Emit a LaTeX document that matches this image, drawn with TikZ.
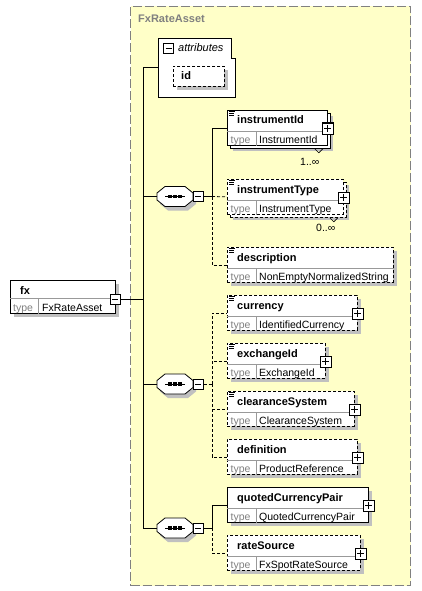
\documentclass[tikz,border=0pt]{standalone}
\usepackage{fontspec}
\setmainfont{Liberation Sans}
\usetikzlibrary{shadows}
\definecolor{xsdyellow}{RGB}{255,255,200}
\definecolor{xsdshadow}{RGB}{192,192,192}
\definecolor{xsdgray}{RGB}{128,128,128}
\tikzset{
	elbox/.style={draw,fill=white,line width=0.8pt,anchor=north west,inner sep=0pt,minimum height=35pt},
	elshadow/.style={drop shadow={shadow xshift=#1,shadow yshift=-#1,fill=xsdshadow,opacity=1}},
	singlebox/.style={elbox,elshadow=4pt},
	multibox/.style={elbox,elshadow=6pt,copy shadow={shadow xshift=3pt,shadow yshift=-3pt,draw=black,fill=white,opacity=1}},
	optbox/.style={dash pattern=on 3pt off 2pt},
	optline/.style={dash pattern=on 3pt off 2pt},
	divline/.style={draw=black!40,line width=0.8pt},
	groupbox/.style={draw=xsdgray,fill=xsdyellow,dash pattern=on 9pt off 3pt,line width=1pt,anchor=north west,inner sep=0pt,minimum width=280pt,minimum height=579pt},
	attrbox/.style={anchor=north west,inner sep=0pt,minimum width=77pt,minimum height=59pt},
	seqbox/.style={inner sep=0pt,minimum width=36pt,minimum height=20pt},
	nametext/.style={anchor=base west,inner sep=0pt,font=\fontsize{11}{13}\selectfont\bfseries},
	titletext/.style={nametext,text=xsdgray},
	attrtext/.style={anchor=base west,inner sep=0pt,font=\fontsize{11}{13}\selectfont\itshape},
	typetext/.style={anchor=base west,inner sep=0pt,text=xsdgray,font=\fontsize{10.5}{12}\selectfont},
	valtext/.style={anchor=base west,inner sep=0pt,font=\fontsize{10.5}{12}\selectfont},
	occtext/.style={valtext},
	minusbox/.style={draw,fill=white,line width=1pt,minimum size=10pt,inner sep=0pt,
		path picture={\draw[line width=1pt] ([xshift=2pt]path picture bounding box.west) -- ([xshift=-2pt]path picture bounding box.east);}},
	plusbox/.style={draw,fill=white,line width=1pt,minimum size=11pt,inner sep=0pt,
		path picture={\draw[line width=1pt] ([xshift=2pt]path picture bounding box.west) -- ([xshift=-2pt]path picture bounding box.east)
			([yshift=-2pt]path picture bounding box.north) -- ([yshift=2pt]path picture bounding box.south);}},
	docline/.style={line width=0.7pt},
	conn/.style={line width=0.8pt}
}
\newcommand{\xsdel}[5]{%
	\node[#1,minimum width=#4] (#2) at (227,#3) {};
	\draw[divline] ([yshift=-21pt]#2.north west) -- ([yshift=-21pt]#2.north east);
	\draw[divline] ([xshift=29pt,yshift=-21pt]#2.north west) -- ([xshift=29pt]#2.south west);
	\node[nametext] (#2-name) at ([xshift=10pt,yshift=-14pt]#2.north west) {#2};
	\node[typetext] (#2-key) at ([xshift=3.5pt,yshift=2.5pt]#2.south west) {type};
	\node[valtext] (#2-type) at ([xshift=32pt,yshift=2.5pt]#2.south west) {#5};
}
\newcommand{\xsdseq}[2]{%
	\fill[xsdshadow] (160,#2+0.5) -- (168,#2-6) -- (188,#2-6) -- (196,#2+0.5) -- (196,#2+7.5) -- (188,#2+14) -- (168,#2+14) -- (160,#2+7.5) -- cycle;
	\draw[line width=0.8pt,fill=white] (157,#2-3.5) -- (165,#2-10) -- (185,#2-10) -- (193,#2-3.5) -- (193,#2+3.5) -- (185,#2+10) -- (165,#2+10) -- (157,#2+3.5) -- cycle;
	\node[seqbox] (#1) at (175,#2) {};
	\draw[line width=0.8pt] (165,#2) -- (185,#2);
	\foreach \d in {170,175,180}
		\fill (\d-1.6,#2-1.6) rectangle (\d+1.6,#2+1.6);
	\node[minusbox] (#1-minus) at (198,#2) {};
}
\newcommand{\xsdplus}[1]{\node[plusbox] (#1-plus) at ([yshift=-18.5pt]#1.north east) {};}
\newcommand{\xsddoc}[1]{\draw[docline] ([xshift=2pt,yshift=-1.5pt]#1.north west) -- ++(6,0)
	([xshift=2pt,yshift=-3.2pt]#1.north west) -- ++(5,0) ([xshift=2pt,yshift=-4.9pt]#1.north west) -- ++(5,0);}
\begin{document}
\begin{tikzpicture}[x=1pt,y=-1pt]
	\useasboundingbox (0,0) rectangle (421,591);
	\node[groupbox] (grp) at (130,6) {};
	\node[titletext] (grp-title) at (138,23) {FxRateAsset};

	\node[elbox,elshadow=4pt,minimum width=105pt,minimum height=33pt] (fx) at (10,280) {};
	\draw[divline] ([yshift=-18pt]fx.north west) -- ([yshift=-18pt]fx.north east);
	\draw[divline] ([xshift=28pt,yshift=-18pt]fx.north west) -- ([xshift=28pt]fx.south west);
	\node[nametext] (fx-name) at (20,294) {fx};
	\node[typetext] (fx-key) at (13,311) {type};
	\node[valtext] (fx-type) at (42,311) {FxRateAsset};
	\node[minusbox] (fx-minus) at (115,299) {};

	\node[attrbox] (attr) at (158,38) {};
	\draw[line width=0.8pt,fill=white] (attr.south west) -- (attr.north west) -- ([xshift=-4pt]attr.north east)
		-- ([xshift=-4pt,yshift=-20pt]attr.north east) -- ([yshift=-20pt]attr.north east) -- (attr.south east) -- cycle;
	\node[minusbox] (attr-minus) at (168.5,48.5) {};
	\node[attrtext] (attr-name) at (178,52) {attributes};
	\node[elbox,optbox,elshadow=4pt,minimum width=51pt,minimum height=20pt] (id) at (173,66) {};
	\node[nametext] (id-name) at (181,80) {id};

	\xsdseq{seq1}{196.5}
	\xsdseq{seq2}{384}
	\xsdseq{seq3}{528}

	\xsdel{multibox}{instrumentId}{110}{100pt}{InstrumentId}
	\xsdel{multibox,optbox}{instrumentType}{179}{116pt}{InstrumentType}
	\xsdel{singlebox,optbox}{description}{247}{166pt}{NonEmptyNormalizedString}
	\xsdel{singlebox,optbox}{currency}{295}{130pt}{IdentifiedCurrency}
	\xsdel{singlebox,optbox}{exchangeId}{343}{98pt}{ExchangeId}
	\xsdel{singlebox,optbox}{clearanceSystem}{391}{127pt}{ClearanceSystem}
	\xsdel{singlebox,optbox}{definition}{439}{130pt}{ProductReference}
	\xsdel{singlebox}{quotedCurrencyPair}{487}{141pt}{QuotedCurrencyPair}
	\xsdel{singlebox,optbox}{rateSource}{535}{133pt}{FxSpotRateSource}

	\foreach \n in {instrumentId,instrumentType,currency,exchangeId,clearanceSystem,definition,quotedCurrencyPair,rateSource}
		{\xsdplus{\n}}
	\foreach \n in {instrumentId,instrumentType,description,currency,exchangeId,clearanceSystem}
		{\xsddoc{\n}}

	\draw[line width=0.6pt] ([xshift=-13pt,yshift=-3pt]instrumentId.south east) -- ++(4,4) -- ++(4,-4);
	\draw[line width=0.6pt] ([xshift=-14pt,yshift=-3pt]instrumentType.south east) -- ++(4,4) -- ++(4,-4);
	\node[occtext] (instrumentId-occ) at (300,165) {1..∞};
	\node[occtext] (instrumentType-occ) at (316,231) {0..∞};

	\coordinate (trunk) at (143,299);
	\coordinate (br1) at (212,196.5);
	\coordinate (br2) at (212,384);
	\coordinate (br3) at (212,528);
	\draw[conn] (fx-minus.east) -- (trunk);
	\draw[conn] (trunk) |- (attr.west);
	\draw[conn] (trunk) |- (seq1.west);
	\draw[conn] (trunk) |- (seq2.west);
	\draw[conn] (trunk) |- (seq3.west);

	\draw[conn] (seq1-minus.east) -- (br1);
	\draw[conn] (br1) |- (instrumentId.west);
	\draw[conn,optline] (br1) -- (instrumentType.west);
	\draw[conn,optline] (br1) |- (description.west);

	\draw[conn,optline] (seq2-minus.east) -- (br2);
	\draw[conn,optline] (br2) |- (currency.west);
	\draw[conn,optline] (br2) |- (exchangeId.west);
	\draw[conn,optline] (br2) |- (clearanceSystem.west);
	\draw[conn,optline] (br2) |- (definition.west);

	\draw[conn] (seq3-minus.east) -- (br3);
	\draw[conn] (br3) |- (quotedCurrencyPair.west);
	\draw[conn,optline] (br3) |- (rateSource.west);
\end{tikzpicture}
\end{document}
